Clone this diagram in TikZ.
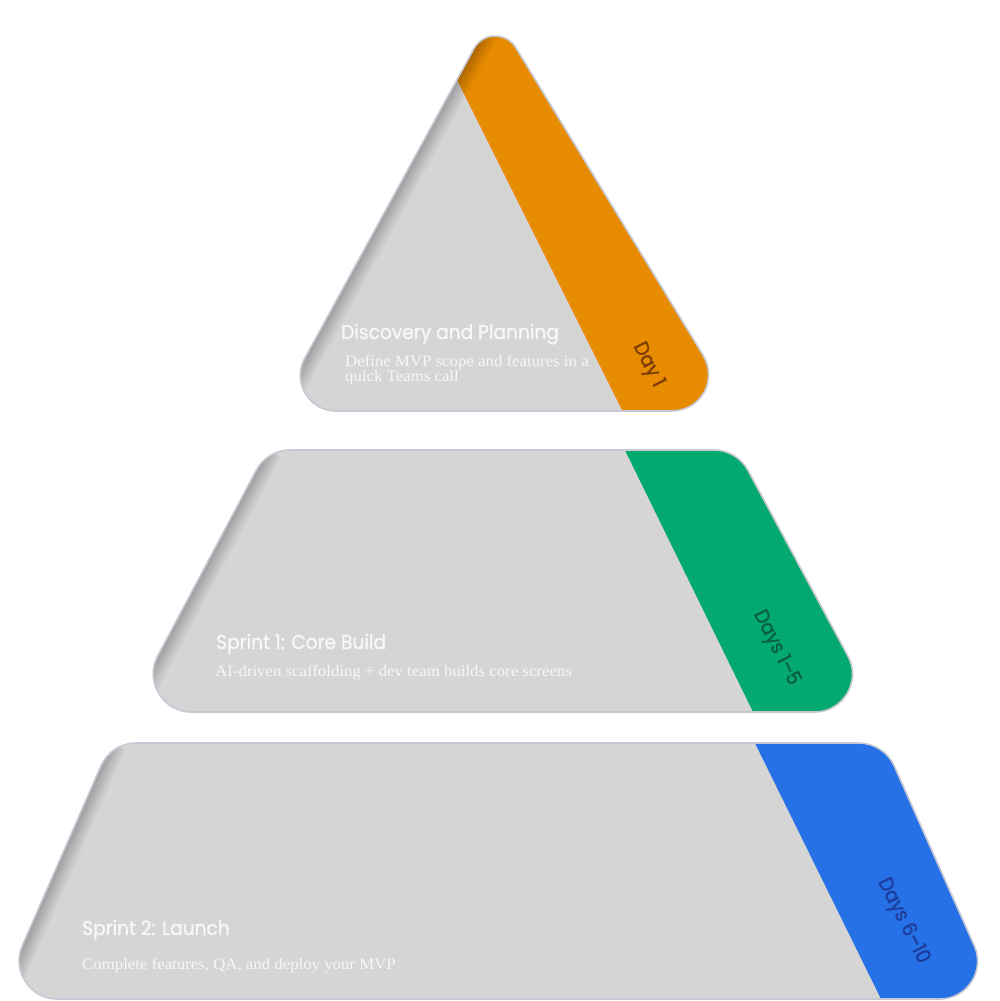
\documentclass[tikz,border=0pt]{standalone}
\usepackage{fontspec}
\usetikzlibrary{calc}
\newfontfamily\titlefont[FakeStretch=0.93,FakeBold=1.4]{Poppins}
\newfontfamily\bodyfont[FakeStretch=1.05]{Liberation Serif}
\definecolor{shapegray}{HTML}{D5D5D5}
\definecolor{edgeline}{HTML}{C6C8D4}
\definecolor{bandorange}{HTML}{E78B00}
\definecolor{bandgreen}{HTML}{03A96E}
\definecolor{bandblue}{HTML}{2571E5}
\definecolor{txtbrown}{HTML}{7E3C05}
\definecolor{txtgreen}{HTML}{0A5E46}
\definecolor{txtblue}{HTML}{1C3D9C}
\definecolor{txtwhite}{HTML}{F7F7F7}
\tikzset{
  tier/.style={fill=shapegray},
  tierline/.style={draw=edgeline, line width=1.6pt},
  titletext/.style={inner sep=0pt, anchor=base west, text=txtwhite, font=\titlefont\fontsize{20}{24}\selectfont},
  bodytext/.style={inner sep=0pt, anchor=base west, text=txtwhite, font=\bodyfont\fontsize{16}{18}\selectfont},
  daytext/.style={inner sep=0pt, rotate=-63.4, font=\titlefont\fontsize{20}{24}\selectfont}
}
\begin{document}
\begin{tikzpicture}[x=1pt,y=-1pt]
\useasboundingbox (0,0) rectangle (1000,1001);
\fill[white] (0,0) rectangle (1000,1001);
% vertices
\coordinate (T1) at (494,12);
\coordinate (T2) at (737,411);
\coordinate (T3) at (276,411);
\coordinate (M1) at (267,450);
\coordinate (M2) at (737,450);
\coordinate (M3) at (878,712);
\coordinate (M4) at (128,712);
\coordinate (B1) at (111,743);
\coordinate (B2) at (884,743);
\coordinate (B3) at (998,999);
\coordinate (B4) at (-1,999);
\def\shapeT{($(T3)!0.5!(T1)$)
  -- ($(T1)!42pt!(T3)$) .. controls ($(T1)!23pt!(T3)$) and ($(T1)!23pt!(T2)$) .. ($(T1)!42pt!(T2)$)
  -- ($(T2)!66pt!(T1)$) .. controls ($(T2)!36pt!(T1)$) and ($(T2)!36pt!(T3)$) .. ($(T2)!66pt!(T3)$)
  -- ($(T3)!60pt!(T2)$) .. controls ($(T3)!33pt!(T2)$) and ($(T3)!33pt!(T1)$) .. ($(T3)!60pt!(T1)$)
  -- cycle}
\def\shapeM{($(M4)!0.5!(M1)$)
  -- ($(M1)!23pt!(M4)$) .. controls ($(M1)!9pt!(M4)$) and ($(M1)!9pt!(M2)$) .. ($(M1)!23pt!(M2)$)
  -- ($(M2)!23pt!(M1)$) .. controls ($(M2)!9pt!(M1)$) and ($(M2)!9pt!(M3)$) .. ($(M2)!23pt!(M3)$)
  -- ($(M3)!63pt!(M2)$) .. controls ($(M3)!35pt!(M2)$) and ($(M3)!35pt!(M4)$) .. ($(M3)!63pt!(M4)$)
  -- ($(M4)!63pt!(M3)$) .. controls ($(M4)!35pt!(M3)$) and ($(M4)!35pt!(M1)$) .. ($(M4)!63pt!(M1)$)
  -- cycle}
\def\shapeB{($(B4)!0.5!(B1)$)
  -- ($(B1)!25pt!(B4)$) .. controls ($(B1)!10pt!(B4)$) and ($(B1)!10pt!(B2)$) .. ($(B1)!25pt!(B2)$)
  -- ($(B2)!25pt!(B1)$) .. controls ($(B2)!10pt!(B1)$) and ($(B2)!10pt!(B3)$) .. ($(B2)!25pt!(B3)$)
  -- ($(B3)!58pt!(B2)$) .. controls ($(B3)!31pt!(B2)$) and ($(B3)!31pt!(B4)$) .. ($(B3)!58pt!(B4)$)
  -- ($(B4)!58pt!(B3)$) .. controls ($(B4)!31pt!(B3)$) and ($(B4)!31pt!(B1)$) .. ($(B4)!58pt!(B1)$)
  -- cycle}
\def\shadowlayers{32/0.025,28/0.025,24/0.03,20/0.03,16/0.035,12/0.035,8/0.04,4/0.04}
% top tier
\fill[tier] \shapeT;
\begin{scope}
  \clip \shapeT;
  \fill[bandorange] (417,0) -- (627,420) -- (800,420) -- (800,0) -- cycle;
  \foreach \w/\o in \shadowlayers
    \draw[line width=\w pt, black, opacity=\o] (T3) -- (T1);
\end{scope}
\draw[tierline] \shapeT;
% middle tier
\fill[tier] \shapeM;
\begin{scope}
  \clip \shapeM;
  \fill[bandgreen] (620,440) -- (757,720) -- (900,720) -- (900,440) -- cycle;
  \foreach \w/\o in \shadowlayers
    \draw[line width=\w pt, black, opacity=\o] (M4) -- (M1);
\end{scope}
\draw[tierline] \shapeM;
% bottom tier
\fill[tier] \shapeB;
\begin{scope}
  \clip \shapeB;
  \fill[bandblue] (751,735) -- (884,1005) -- (1000,1005) -- (1000,735) -- cycle;
  \foreach \w/\o in \shadowlayers
    \draw[line width=\w pt, black, opacity=\o] (B4) -- (B1);
\end{scope}
\draw[tierline] \shapeB;
% texts
\node[titletext] (title1) at (341,339) {Discovery and Planning};
\node[bodytext] (desc1a) at (345,366) {Define MVP scope and features in a};
\node[bodytext] (desc1b) at (345,381) {quick Teams call};
\node[daytext, text=txtbrown] (day1) at (648,365) {Day 1};
\node[titletext] (title2) at (216,649) {Sprint 1: Core Build};
\node[bodytext] (desc2) at (215,676) {AI-driven scaffolding + dev team builds core screens};
\node[daytext, text=txtgreen] (day2) at (776,648) {Days 1–5};
\node[titletext] (title3) at (82,935) {Sprint 2: Launch};
\node[bodytext] (desc3) at (82,969) {Complete features, QA, and deploy your MVP};
\node[daytext, text=txtblue] (day3) at (903,921) {Days 6–10};
\end{tikzpicture}
\end{document}
